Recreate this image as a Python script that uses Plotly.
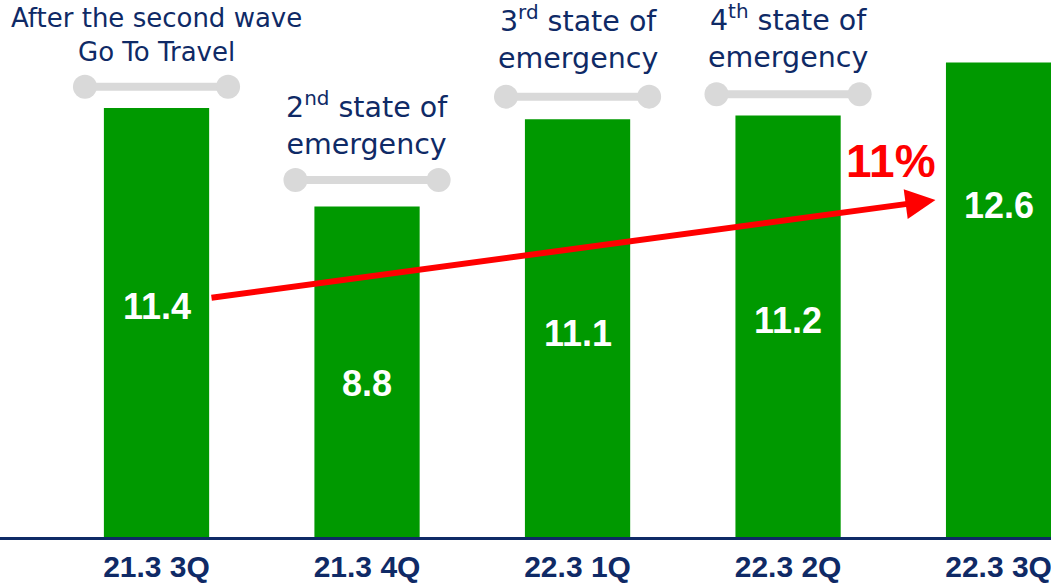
import plotly.graph_objects as go

# Quarterly values
quarters = ["21.3 3Q", "21.3 4Q", "22.3 1Q", "22.3 2Q", "22.3 3Q"]
values = [11.4, 8.8, 11.1, 11.2, 12.6]

# Event notes above the first four bars
notes = [
    "After the second wave<br>Go To Travel",
    "2<sup>nd</sup> state of<br>emergency",
    "3<sup>rd</sup> state of<br>emergency",
    "4<sup>th</sup> state of<br>emergency",
]

# Styling / placement helpers for the notes
note_size = [26, 28.5, 28.5, 28.5]
note_shift = [52, 57, 59, 58]           # px above the bracket
bracket_gap = [0.56, 0.70, 0.60, 0.56]  # data units above bar top

# Vertical placement of the value labels inside the bars (data units)
label_y = [6.15, 4.14, 5.46, 5.80, 8.84]

GREEN = "#009900"
NAVY = "#0f2a66"
GREY = "#d9d9d9"
RED = "#ff0000"

x = list(range(len(quarters)))
fig = go.Figure()

fig.add_trace(go.Bar(
    x=x, y=values, width=0.5, marker=dict(color=GREEN, line=dict(width=0)),
    hoverinfo="skip", showlegend=False,
))

# Grey bracket with round ends above each annotated bar
for i, note in enumerate(notes):
    yb = values[i] + bracket_gap[i]
    fig.add_trace(go.Scatter(
        x=[i - 0.34, i + 0.34], y=[yb, yb], mode="lines+markers",
        line=dict(color=GREY, width=8), marker=dict(color=GREY, size=24),
        cliponaxis=False, hoverinfo="skip", showlegend=False,
    ))
    fig.add_annotation(
        x=i, y=yb, yshift=note_shift[i], text=note, showarrow=False,
        xanchor="center", yanchor="middle",
        font=dict(family="DejaVu Sans", size=note_size[i], color=NAVY),
    )

# Value labels inside bars
for i, v in enumerate(values):
    fig.add_annotation(
        x=i, y=label_y[i], text=f"{v:.1f}", showarrow=False,
        font=dict(family="Liberation Sans", size=36, color="white", weight="bold"),
    )

# Growth arrow from first to last quarter
growth = round((values[-1] / values[0] - 1) * 100)
fig.add_annotation(
    x=3.70, y=8.97, ax=0.254, ay=6.385, xref="x", yref="y", axref="x", ayref="y",
    text="", showarrow=True, arrowhead=2, arrowsize=1.0, arrowwidth=6,
    arrowcolor=RED, standoff=0, startstandoff=0,
)
fig.add_annotation(
    x=3.49, y=10.0, text=f"{growth}%", showarrow=False,
    font=dict(family="Liberation Sans", size=46, color=RED, weight="bold"),
)

# Baseline
fig.add_shape(type="line", xref="paper", yref="y", x0=0, x1=1, y0=0, y1=0,
              line=dict(color=NAVY, width=6))

fig.update_layout(
    width=1051, height=586, margin=dict(l=0, r=0, t=0, b=46),
    plot_bgcolor="white", paper_bgcolor="white", bargap=0.5,
    xaxis=dict(range=[-0.7435, 4.249], tickvals=x, ticktext=quarters,
               showgrid=False, zeroline=False, showline=False, ticks="",
               automargin=False, ticklabelstandoff=6, ticklabeloverflow="allow",
               tickfont=dict(family="Liberation Sans", size=30, color=NAVY, weight="bold")),
    yaxis=dict(range=[0, 14.25], visible=False, showgrid=False, zeroline=False,
               automargin=False),
)

fig.write_html("out.html")
